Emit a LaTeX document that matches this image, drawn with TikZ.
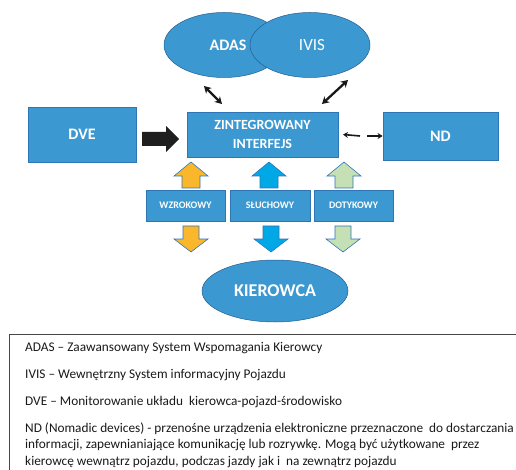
\documentclass[tikz,border=0pt]{standalone}
\usepackage{fontspec}
\setmainfont{Carlito}
\usetikzlibrary{arrows.meta,shapes.geometric}
\definecolor{boxblue}{RGB}{59,152,209}
\definecolor{boxline}{RGB}{46,117,182}
\definecolor{arrorange}{RGB}{251,183,43}
\definecolor{arrcyan}{RGB}{0,169,230}
\definecolor{arrgreen}{RGB}{197,224,180}
\definecolor{legline}{RGB}{70,70,70}
\newcommand{\blockup}[3]{% cx, top y, colour
  \draw[blockarr, fill=#3] (#1,#2) -- ++(17,14) -- ++(-8,0) -- ++(0,12) -- ++(-18,0) -- ++(0,-12) -- ++(-8,0) -- cycle;}
\newcommand{\blockdown}[3]{% cx, top y, colour
  \draw[blockarr, fill=#3] (#1-8,#2) -- ++(16,0) -- ++(0,13) -- ++(9,0) -- (#1,#2+26) -- ++(-17,-13) -- ++(9,0) -- cycle;}
\begin{document}
\begin{tikzpicture}[x=1pt,y=-1pt,
  bluebox/.style={draw=boxline, line width=0.8pt, fill=boxblue, text=white, font=\bfseries, align=center, inner sep=0pt},
  ell/.style={ellipse, draw=boxline!80!black, line width=0.5pt, fill=boxblue, text=white, inner sep=0pt},
  blockarr/.style={draw=boxline, line width=0.6pt},
  thinarr/.style={line width=2.3pt, black!90, {Stealth[length=7pt,width=8pt]}-{Stealth[length=7pt,width=8pt]}},
  ndarr/.style={line width=1.6pt, black!90, -{Stealth[length=5pt,width=6pt]}},
  legtext/.style={anchor=base west, inner sep=0pt, text=black!90, font=\fontsize{13.3}{16}\selectfont}
]
\useasboundingbox (0,0) rectangle (516,470);
% ellipses
\node[ell, minimum width=120pt, minimum height=65pt] (adas) at (224,45) {};
\node[ell, minimum width=120pt, minimum height=65pt] (ivis) at (310,45) {};
\node[text=white, font=\bfseries\fontsize{16}{18}\selectfont, inner sep=0pt] (adast) at (228,45) {ADAS};
\node[text=white, font=\fontsize{17}{19}\selectfont, inner sep=0pt] (ivist) at (312,45) {IVIS};
% boxes
\node[bluebox, minimum width=108pt, minimum height=55pt, font=\bfseries\fontsize{16}{18}\selectfont] (dve) at (82,134.5) {DVE};
\node[bluebox, minimum width=151pt, minimum height=45pt, font=\bfseries\fontsize{14}{19}\selectfont] (zi) at (262.5,134.5) {ZINTEGROWANY\\INTERFEJS};
\node[bluebox, minimum width=115pt, minimum height=48pt, font=\bfseries\fontsize{16}{18}\selectfont] (nd) at (440.5,136) {ND};
\node[bluebox, minimum width=79pt, minimum height=31pt, font=\bfseries\fontsize{10}{12}\selectfont] (wz) at (185.5,205.5) {WZROKOWY};
\node[bluebox, minimum width=80pt, minimum height=31pt, font=\bfseries\fontsize{10}{12}\selectfont] (sl) at (270,205.5) {SŁUCHOWY};
\node[bluebox, minimum width=79pt, minimum height=31pt, font=\bfseries\fontsize{10}{12}\selectfont] (dt) at (353.5,205.5) {DOTYKOWY};
\node[ell, minimum width=146pt, minimum height=62pt, font=\bfseries\fontsize{18}{20}\selectfont] (kier) at (275,291) {KIEROWCA};
% thin double arrows
\coordinate (a1) at (204,86);
\coordinate (a2) at (222,104);
\coordinate (i1) at (348,80);
\coordinate (i2) at (322,104);
\draw[thinarr] (a1) -- (a2);
\draw[thinarr] (i1) -- (i2);
% ND arrows
\coordinate (n1) at (360,136);
\coordinate (n2) at (367,136);
\draw[ndarr] (n1) -- (zi.east -| 343,0);
\draw[ndarr] (n2) -- (nd.west);
% big black arrow
\fill[black!88] (142,132) -- (166,132) -- (166,126) -- (179,139) -- (166,152) -- (166,146) -- (142,146) -- cycle;
% block arrows up
\blockup{191}{162}{arrorange}
\blockup{269}{162}{arrcyan}
\blockup{344}{162}{arrgreen}
% block arrows down
\blockdown{191}{226}{arrorange}
\blockdown{271}{226}{arrcyan}
\blockdown{343}{226}{arrgreen}
% legend
\draw[legline, line width=0.8pt] (9,470) -- (9,334) -- (516,334);
\node[legtext] (l1) at (25,351) {ADAS – Zaawansowany System Wspomagania Kierowcy};
\node[legtext] (l2) at (25,378) {IVIS – Wewnętrzny System informacyjny Pojazdu};
\node[legtext] (l3) at (25,405) {DVE – Monitorowanie układu\ \ kierowca-pojazd-środowisko};
\node[legtext] (l4) at (25,432) {ND (Nomadic devices) - przenośne urządzenia elektroniczne przeznaczone\ \ do dostarczania};
\node[legtext] (l5) at (25,448.5) {informacji, zapewnianiające komunikację lub rozrywkę. Mogą być użytkowane\ \ przez};
\node[legtext] (l6) at (25,465) {kierowcę wewnątrz pojazdu, podczas jazdy jak i\ \ na zewnątrz pojazdu};
\end{tikzpicture}
\end{document}
